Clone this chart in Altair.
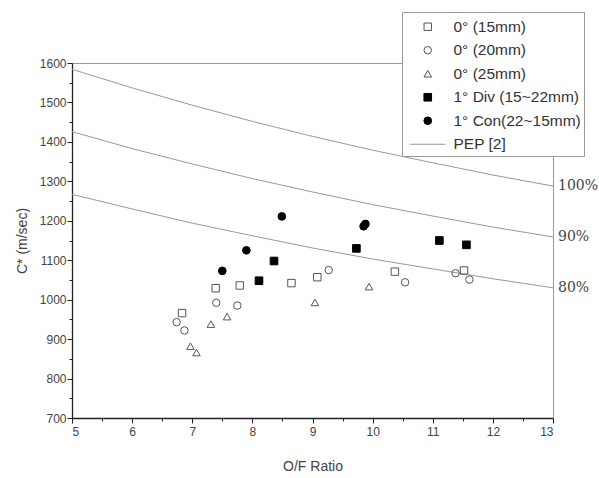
import altair as alt
import pandas as pd

# --- PEP reference curves (characteristic velocity vs O/F) ---
pep_of = [5, 6, 7, 8, 9, 10, 11, 12, 13]
pep_100 = [1584, 1537, 1493, 1452, 1414, 1379, 1347, 1316, 1288]
pep_90 = [1426, 1383, 1344, 1307, 1273, 1241, 1212, 1184, 1159]
pep_80 = [1267, 1230, 1194, 1162, 1131, 1103, 1078, 1053, 1030]
pep_levels = ["100%", "90%", "80%"]

# --- measured C* for each nozzle configuration ---
series_names = ["0° (15mm)", "0° (20mm)", "0° (25mm)",
                "1° Div (15~22mm)", "1° Con(22~15mm)", "PEP [2]"]

s15_of = [6.83, 7.39, 7.79, 8.65, 9.08, 10.37, 11.52]
s15_c = [966, 1029, 1036, 1042, 1057, 1071, 1074]

s20_of = [6.74, 6.87, 7.40, 7.75, 9.27, 10.54, 11.38, 11.61]
s20_c = [943, 922, 992, 985, 1075, 1044, 1067, 1051]

s25_of = [6.97, 7.07, 7.31, 7.58, 9.04, 9.94]
s25_c = [882, 866, 938, 957, 993, 1033]

div_of = [8.11, 8.36, 9.73, 11.11, 11.56]
div_c = [1048, 1098, 1130, 1150, 1139]

con_of = [7.50, 7.90, 8.49, 9.85, 9.88]
con_c = [1073, 1125, 1211, 1186, 1192]

# axis tick positions (major = labelled, minor = halfway)
x_major = [5, 6, 7, 8, 9, 10, 11, 12, 13]
x_minor = [5.5, 6.5, 7.5, 8.5, 9.5, 10.5, 11.5, 12.5]
y_major = [700, 800, 900, 1000, 1100, 1200, 1300, 1400, 1500, 1600]
y_minor = [750, 850, 950, 1050, 1150, 1250, 1350, 1450, 1550]

rows = []
for name, xs, ys in zip(series_names[:5],
                        [s15_of, s20_of, s25_of, div_of, con_of],
                        [s15_c, s20_c, s25_c, div_c, con_c]):
    rows += [{"of": x, "c": y, "series": name} for x, y in zip(xs, ys)]
points_df = pd.DataFrame(rows)

curve_rows = []
for lvl, vals in zip(pep_levels, [pep_100, pep_90, pep_80]):
    curve_rows += [{"of": x, "c": y, "level": lvl} for x, y in zip(pep_of, vals)]
curves_df = pd.DataFrame(curve_rows)

labels_df = pd.DataFrame({
    "of": [pep_of[-1]] * 3,
    "c": [pep_100[-1], pep_90[-1], pep_80[-1]],
    "level": pep_levels,
})

FONT = "Liberation Sans"

x_scale = alt.Scale(domain=[5, 13], nice=False, zero=False)
y_scale = alt.Scale(domain=[700, 1600], nice=False, zero=False)

x_axis = alt.Axis(
    title="O/F Ratio", orient="bottom", values=x_major, format="d",
    tickSize=5, labelPadding=3, titlePadding=22, grid=False, labelOverlap=False,
)
y_axis = alt.Axis(
    title="C* (m/sec)", orient="left", values=y_major, format="d",
    tickSize=5, labelPadding=1, titlePadding=10, grid=False, labelOverlap=False,
)
x_minor_axis = alt.Axis(
    title=None, orient="bottom", values=x_minor, tickSize=3, labels=False,
    domain=False, grid=False,
)
y_minor_axis = alt.Axis(
    title=None, orient="left", values=y_minor, tickSize=3, labels=False,
    domain=False, grid=False,
)

# legend line glyph for the PEP curves (wider than the marker glyphs)
pep_glyph = "M-4.6,0H4.6"

legend = alt.Legend(
    title=" ",
    titleFontSize=3,
    titlePadding=1,
    orient="none",
    legendX=330,
    legendY=-51,
    fillColor="white",
    strokeColor="#999999",
    padding=3,
    labelFont=FONT,
    labelFontSize=15.5,
    labelColor="#333333",
    symbolOffset=15,
    labelOffset=18,
    symbolStrokeWidth=1,
    rowPadding=6.5,
)

shape_scale = alt.Scale(domain=series_names,
                        range=["square", "circle", "triangle-up", "square", "circle", pep_glyph])
fill_scale = alt.Scale(domain=series_names,
                       range=["transparent", "transparent", "transparent", "black", "black", "transparent"])
stroke_scale = alt.Scale(domain=series_names,
                         range=["#555555", "#555555", "#555555", "black", "black", "#999999"])
size_scale = alt.Scale(domain=series_names, range=[55, 60, 80, 50, 70, 50])

curves = alt.Chart(curves_df).mark_line(color="#999999", strokeWidth=1, clip=False).encode(
    x=alt.X("of:Q", scale=x_scale, axis=x_axis),
    y=alt.Y("c:Q", scale=y_scale, axis=y_axis),
    detail="level:N",
    order="of:Q",
)

level_text = alt.Chart(labels_df).mark_text(
    align="left", baseline="middle", dx=5, font="DejaVu Serif", fontSize=14,
    color="#444444", clip=False,
).encode(
    x=alt.X("of:Q", scale=x_scale, axis=x_minor_axis),
    y=alt.Y("c:Q", scale=y_scale, axis=y_minor_axis),
    text="level:N",
)

points = alt.Chart(points_df).mark_point(filled=True, opacity=1, strokeWidth=1).encode(
    x=alt.X("of:Q", scale=x_scale, axis=None),
    y=alt.Y("c:Q", scale=y_scale, axis=None),
    shape=alt.Shape("series:N", scale=shape_scale, legend=legend),
    fill=alt.Fill("series:N", scale=fill_scale, legend=legend),
    stroke=alt.Stroke("series:N", scale=stroke_scale, legend=legend),
    size=alt.Size("series:N", scale=size_scale, legend=legend),
)

chart = alt.layer(curves, level_text, points).resolve_axis(
    x="independent", y="independent",
).properties(
    width=481,
    height=355,
    autosize=alt.AutoSizeParams(type="none"),
    padding={"left": 72, "top": 63, "right": 46, "bottom": 60},
    background="white",
).configure_view(
    stroke="#999999", strokeWidth=1,
).configure_axis(
    labelFont=FONT, labelFontSize=12, labelColor="#444444",
    titleFont=FONT, titleFontSize=14, titleFontWeight="normal", titleColor="#444444",
    domainColor="#222222", domainWidth=1.3, tickColor="#222222", tickWidth=1,
)

chart.save("out.html", embed_options={"renderer": "svg", "actions": False})
